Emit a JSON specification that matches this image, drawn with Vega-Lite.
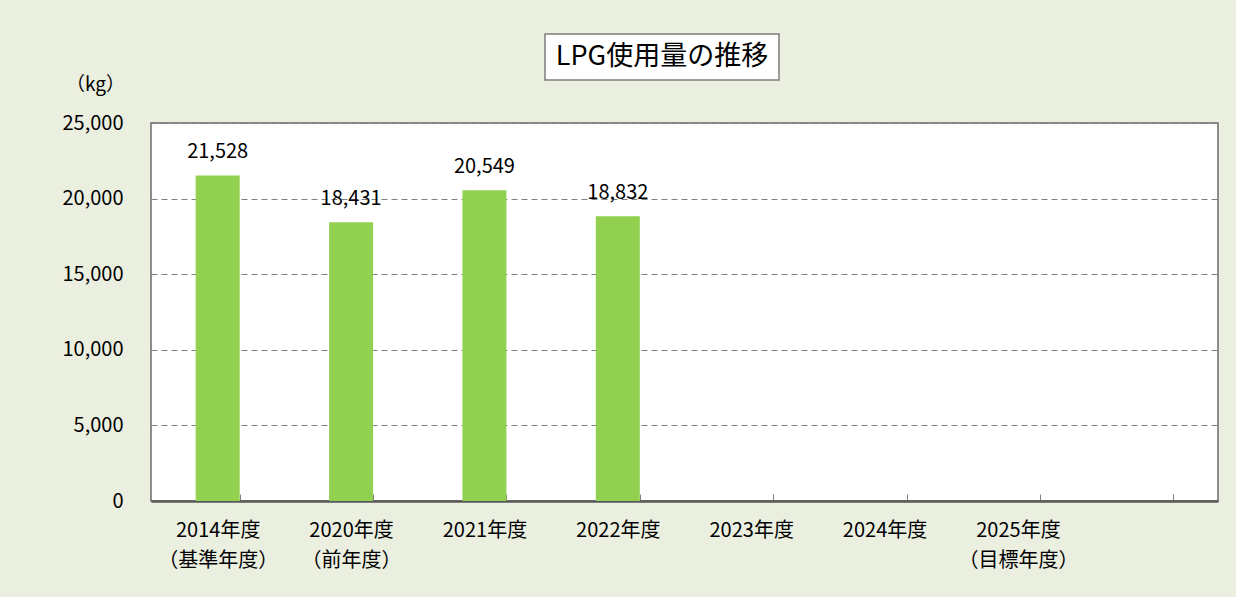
{
  "$schema": "https://vega.github.io/schema/vega-lite/v6.json",
  "background": "#EBEFE0",
  "padding": {"left": 61, "top": 33, "right": 18, "bottom": 28},
  "config": {"font": "Noto Sans CJK JP", "view": {"stroke": null}},
  "spacing": -7,
  "vconcat": [
    {
      "spacing": 0,
      "hconcat": [
        {
          "width": 393,
          "height": 46,
          "data": {"values": [{"t": ""}]},
          "mark": {"type": "text"},
          "encoding": {"text": {"field": "t"}},
          "view": {"stroke": null}
        },
        {
          "width": 234,
          "height": 46,
          "data": {"values": [{"t": "LPG使用量の推移"}]},
          "mark": {"type": "text", "fontSize": 27, "color": "#000000"},
          "encoding": {"text": {"field": "t"}},
          "view": {"fill": "#ffffff", "stroke": "#7f7f7f", "strokeWidth": 1.5}
        }
      ]
    },
    {
      "width": 1067,
      "height": 378,
      "view": {"fill": "#ffffff", "stroke": "#6b6b6b", "strokeWidth": 1.5},
      "data": {
        "values": [
          {"year": "2014年度\n（基準年度）", "value": 21528},
          {"year": "2020年度\n（前年度）", "value": 18431},
          {"year": "2021年度", "value": 20549},
          {"year": "2022年度", "value": 18832},
          {"year": "2023年度", "value": null},
          {"year": "2024年度", "value": null},
          {"year": "2025年度\n（目標年度）", "value": null}
        ]
      },
      "encoding": {
        "x": {
          "field": "year",
          "type": "nominal",
          "sort": null,
          "scale": {
            "domain": ["2014年度\n（基準年度）", "2020年度\n（前年度）", "2021年度", "2022年度", "2023年度", "2024年度", "2025年度\n（目標年度）", " "],
            "paddingInner": 0.67,
            "paddingOuter": 0.335
          },
          "axis": {
            "title": null,
            "labelAngle": 0,
            "labelExpr": "split(datum.label, '\\n')",
            "labelFontSize": 20,
            "labelColor": "#000000",
            "labelLineHeight": 30,
            "labelPadding": 26,
            "tickBand": "extent",
            "tickSize": -7,
            "tickColor": "#7f7f7f",
            "domainColor": "#595959",
            "domainWidth": 2.5,
            "grid": false
          }
        },
        "y": {
          "field": "value",
          "type": "quantitative",
          "scale": {"domain": [0, 25000], "nice": false},
          "axis": {
            "values": [0, 5000, 10000, 15000, 20000, 25000],
            "format": ",.0f",
            "title": "（kg）",
            "titleAngle": 0,
            "titleX": -56,
            "titleY": -39,
            "titleAlign": "center",
            "titleBaseline": "middle",
            "titleFontSize": 19,
            "titleFontWeight": "normal",
            "titleColor": "#000000",
            "labelFontSize": 20,
            "labelColor": "#000000",
            "labelPadding": 28,
            "ticks": false,
            "domain": false,
            "gridDash": [6, 4],
            "gridColor": "#808080",
            "gridWidth": 1
          }
        }
      },
      "layer": [
        {"mark": {"type": "bar", "color": "#92D050"}},
        {
          "mark": {"type": "text", "baseline": "alphabetic", "dy": -17, "fontSize": 20, "color": "#000000"},
          "encoding": {"text": {"field": "value", "type": "quantitative", "format": ",.0f"}}
        }
      ]
    }
  ]
}
